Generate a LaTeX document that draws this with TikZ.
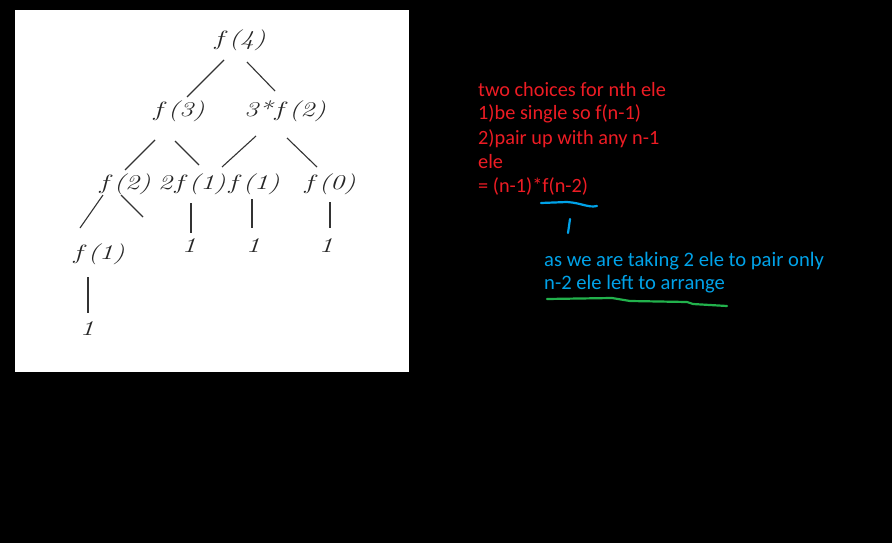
\documentclass[tikz,border=0pt]{standalone}
\usepackage{fontspec}
\setmainfont{Carlito}
\newfontfamily\treefont{Latin Modern Roman}
\usetikzlibrary{calc}
\definecolor{paintred}{RGB}{237,28,36}
\definecolor{paintblue}{RGB}{0,162,232}
\definecolor{paintgreen}{RGB}{34,177,76}
\tikzset{
  treetext/.style={inner sep=0pt, font=\treefont\itshape\fontsize{21}{24}\selectfont, text=black!85},
  treeline/.style={draw=black!80, line width=1.1pt},
  redtext/.style={anchor=base west, inner sep=0pt, text=paintred, font=\fontsize{20.3}{24}\selectfont},
  bluetext/.style={anchor=base west, inner sep=0pt, text=paintblue, font=\fontsize{20.6}{24}\selectfont},
}
\newcommand{\tw}[1]{\scalebox{1.35}[1]{#1}}
\begin{document}
\begin{tikzpicture}[x=1pt,y=-1pt]
\useasboundingbox (0,0) rectangle (892,543);
\fill[black] (0,0) rectangle (892,543);
\fill[white] (15,10) rectangle (409,372);
% tree nodes
\node[treetext] (f4) at (239,40) {\tw{$f$(4)}};
\node[treetext] (f3) at (178,111) {\tw{$f$(3)}};
\node[treetext] (g) at (285,111) {\tw{3*$f$(2)}};
\node[treetext] (f2) at (124,184) {\tw{$f$(2)}};
\node[treetext] (a) at (192,184) {\tw{2$f$(1)}};
\node[treetext] (b) at (253,184) {\tw{$f$(1)}};
\node[treetext] (c) at (329,184) {\tw{$f$(0)}};
\node[treetext] (d) at (98,254) {\tw{$f$(1)}};
\node[treetext] (o1) at (189,246) {\tw{1}};
\node[treetext] (o2) at (253,246) {\tw{1}};
\node[treetext] (o3) at (326,246) {\tw{1}};
\node[treetext] (o4) at (87,329) {\tw{1}};
\coordinate (e) at (143,217);
% tree connectors
\draw[treeline] ($(f4)+(-15,20)$) -- ($(f3)+(9,-14)$);
\draw[treeline] ($(f4)+(8,22)$) -- ($(g)+(-10,-20)$);
\draw[treeline] ($(f3)+(-23,29)$) -- ($(f2)+(1,-14)$);
\draw[treeline] ($(f3)+(-3,30)$) -- ($(a)+(7,-19)$);
\draw[treeline] ($(g)+(-29,25)$) -- ($(a)+(30,-17)$);
\draw[treeline] ($(g)+(2,27)$) -- ($(c)+(-12,-17)$);
\draw[treeline] ($(f2)+(-21,11)$) -- ($(d)+(-18,-26)$);
\draw[treeline] ($(f2)+(-3,11)$) -- (e);
\draw[treeline] ($(a)+(-1,19)$) -- ($(o1)+(2,-13)$);
\draw[treeline] ($(b)+(-1,15)$) -- ($(o2)+(-1,-18)$);
\draw[treeline] ($(c)+(1,18)$) -- ($(o3)+(4,-18)$);
\draw[treeline] ($(d)+(-10,23)$) -- ($(o4)+(1,-16)$);
% red notes
\node[redtext] (r1) at (478,96) {two choices for nth ele};
\node[redtext] (r2) at (478,120) {1)be single so f(n-1)};
\node[redtext] (r3) at (478,144) {2)pair up with any n-1};
\node[redtext] (r4) at (478,168) {ele};
\node[redtext] (r5) at (478,192) {= (n-1)*f(n-2)};
% blue notes
\node[bluetext] (b1) at (544,266) {as we are taking 2 ele to pair only};
\node[bluetext] (b2) at (544,289) {n-2 ele left to arrange};
% hand marks
\draw[paintblue, line width=2.2pt, line cap=round] (541,203) -- (567,202) .. controls (582,203) and (588,208) .. (597,206);
\draw[paintblue, line width=2.2pt, line cap=round] (570,219) -- (568,233);
\draw[paintgreen, line width=2.2pt, line cap=round, line join=round] (547,299) -- (612,298) -- (630,301) -- (687,302) -- (693,304) -- (727,306);
\end{tikzpicture}
\end{document}
